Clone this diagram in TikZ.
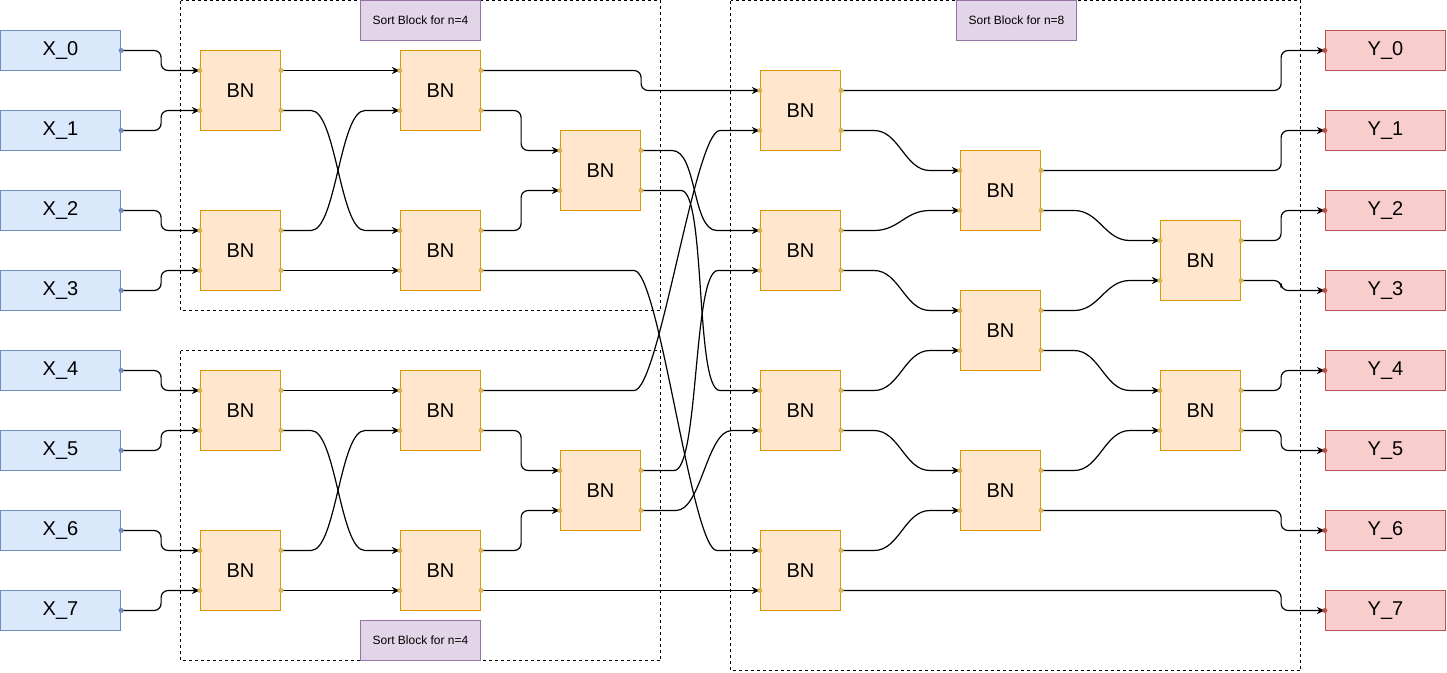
\documentclass[tikz,border=0pt]{standalone}
\usepackage{fontspec}
\setmainfont{Liberation Sans}
\usetikzlibrary{arrows.meta}

\definecolor{inFill}{HTML}{DAE8FC}
\definecolor{inLine}{HTML}{6C8EBF}
\definecolor{outFill}{HTML}{F8CECC}
\definecolor{outLine}{HTML}{B85450}
\definecolor{bnFill}{HTML}{FFE6CC}
\definecolor{bnLine}{HTML}{D79B00}
\definecolor{bnPort}{HTML}{D6B656}
\definecolor{tagFill}{HTML}{E1D5E7}
\definecolor{tagLine}{HTML}{9673A6}

\begin{document}
\begin{tikzpicture}[x=1pt,y=-1pt,
  io/.style={draw,line width=1.2pt,minimum width=120pt,minimum height=40pt,inner sep=0pt,font=\fontsize{20}{24}\selectfont},
  xin/.style={io,fill=inFill,draw=inLine},
  yout/.style={io,fill=outFill,draw=outLine},
  bn/.style={draw=bnLine,fill=bnFill,line width=1.2pt,minimum size=80pt,inner sep=0pt,font=\fontsize{20}{24}\selectfont},
  tag/.style={draw=tagLine,fill=tagFill,line width=1pt,minimum width=120pt,minimum height=40pt,inner sep=0pt,font=\fontsize{12}{14}\selectfont},
  group/.style={line width=0.9pt,dash pattern=on 3pt off 3pt},
  wire/.style={line width=1.2pt,-{Stealth[length=8pt,width=7pt,inset=2.5pt]}},
  ortho/.style={wire,rounded corners=7pt}]
\useasboundingbox (-0.5,-0.5) rectangle (1446.5,671.5);
% sort blocks
\draw[group] (180,0) rectangle (660,310);
\draw[group] (180,350) rectangle (660,660);
\draw[group] (730,0) rectangle (1300,670);
\node[tag] (t1) at (420,20) {Sort Block for n=4};
\node[tag] (t2) at (420,640) {Sort Block for n=4};
\node[tag] (t3) at (1016,20) {Sort Block for n=8};
% inputs and outputs
\foreach \i in {0,...,7}{
  \node[xin] (x\i) at (60,{50+80*\i}) {X\_\i};
  \node[yout] (y\i) at (1385,{50+80*\i}) {Y\_\i};
}
% comparators
\node[bn] (a1) at (240,90) {BN};
\node[bn] (a2) at (240,250) {BN};
\node[bn] (a3) at (240,410) {BN};
\node[bn] (a4) at (240,570) {BN};
\node[bn] (b1) at (440,90) {BN};
\node[bn] (b2) at (440,250) {BN};
\node[bn] (b3) at (440,410) {BN};
\node[bn] (b4) at (440,570) {BN};
\node[bn] (c1) at (600,170) {BN};
\node[bn] (c2) at (600,490) {BN};
\node[bn] (d1) at (800,110) {BN};
\node[bn] (d2) at (800,250) {BN};
\node[bn] (d3) at (800,410) {BN};
\node[bn] (d4) at (800,570) {BN};
\node[bn] (e1) at (1000,190) {BN};
\node[bn] (e2) at (1000,330) {BN};
\node[bn] (e3) at (1000,490) {BN};
\node[bn] (f1) at (1200,260) {BN};
\node[bn] (f2) at (1200,410) {BN};
\foreach \n in {a1,a2,a3,a4,b1,b2,b3,b4,c1,c2,d1,d2,d3,d4,e1,e2,e3,f1,f2}{
  \coordinate (\n-in1) at ([yshift=20pt]\n.west);
  \coordinate (\n-in2) at ([yshift=-20pt]\n.west);
  \coordinate (\n-out1) at ([yshift=20pt]\n.east);
  \coordinate (\n-out2) at ([yshift=-20pt]\n.east);
}
% inputs to first column
\foreach \i/\n/\p in {0/a1/in1,1/a1/in2,2/a2/in1,3/a2/in2,4/a3/in1,5/a3/in2,6/a4/in1,7/a4/in2}
  \draw[ortho] (x\i.east) -- ++(40,0) |- (\n-\p);
% n=4 blocks
\foreach \u/\v/\s/\t/\c in {a1/a2/b1/b2/c1,a3/a4/b3/b4/c2}{
  \draw[wire] (\u-out1) -- (\s-in1);
  \draw[wire] (\u-out2) -- ++(30,0) .. controls +(25,0) and +(-25,0) .. ([xshift=-35pt]\t-in1) -- (\t-in1);
  \draw[wire] (\v-out1) -- ++(30,0) .. controls +(25,0) and +(-25,0) .. ([xshift=-35pt]\s-in2) -- (\s-in2);
  \draw[wire] (\v-out2) -- (\t-in2);
  \draw[ortho] (\s-out2) -- ++(40,0) |- (\c-in1);
  \draw[ortho] (\t-out1) -- ++(40,0) |- (\c-in2);
}
% into the n=8 block
\draw[ortho] (b1-out1) -- ++(160,0) |- (d1-in1);
\draw[wire] (b2-out2) -- ++(153,0) .. controls +(25,0) and +(-25,0) .. ([xshift=-43pt]d4-in1) -- (d4-in1);
\draw[wire] (c1-out1) -- ++(31,0) .. controls +(25,0) and +(-25,0) .. ([xshift=-43pt]d2-in1) -- (d2-in1);
\draw[wire] (c1-out2) -- ++(40,0) .. controls +(25,0) and +(-25,0) .. ([xshift=-40pt]d3-in1) -- (d3-in1);
\draw[wire] (b3-out1) -- ++(153,0) .. controls +(25,0) and +(-25,0) .. ([xshift=-40pt]d1-in2) -- (d1-in2);
\draw[wire] (b4-out2) -- (d4-in2);
\draw[wire] (c2-out1) -- ++(33,0) .. controls +(25,0) and +(-25,0) .. ([xshift=-42pt]d2-in2) -- (d2-in2);
\draw[wire] (c2-out2) -- ++(35,0) .. controls +(25,0) and +(-25,0) .. ([xshift=-28pt]d3-in2) -- (d3-in2);
% n=8 block
\foreach \p/\q in {d1-out2/e1-in1,d2-out1/e1-in2,d2-out2/e2-in1,d3-out1/e2-in2,d3-out2/e3-in1,d4-out1/e3-in2,
                   e1-out2/f1-in1,e2-out1/f1-in2,e2-out2/f2-in1,e3-out1/f2-in2}
  \draw[wire] (\p) -- ++(33,0) .. controls +(25,0) and +(-25,0) .. ([xshift=-30pt]\q) -- (\q);
% outputs
\draw[ortho] (d1-out1) -- ++(440,0) |- (y0.west);
\draw[ortho] (e1-out1) -- ++(240,0) |- (y1.west);
\draw[ortho] (f1-out1) -- ++(40,0) |- (y2.west);
\draw[ortho] (f1-out2) -- ++(40,0) |- (y3.west);
\draw[ortho] (f2-out1) -- ++(40,0) |- (y4.west);
\draw[ortho] (f2-out2) -- ++(40,0) |- (y5.west);
\draw[ortho] (e3-out2) -- ++(240,0) |- (y6.west);
\draw[ortho] (d4-out2) -- ++(440,0) |- (y7.west);
% ports
\foreach \n in {a1,a2,a3,a4,b1,b2,b3,b4,c1,c2,d1,d2,d3,d4,e1,e2,e3,f1,f2}
  \foreach \p in {in1,in2,out1,out2}
    \fill[bnPort] (\n-\p) circle (2.5pt);
\foreach \i in {0,...,7}{
  \fill[inLine] (x\i.east) circle (2.5pt);
  \fill[outLine] (y\i.west) circle (2.5pt);
}
\end{tikzpicture}
\end{document}
